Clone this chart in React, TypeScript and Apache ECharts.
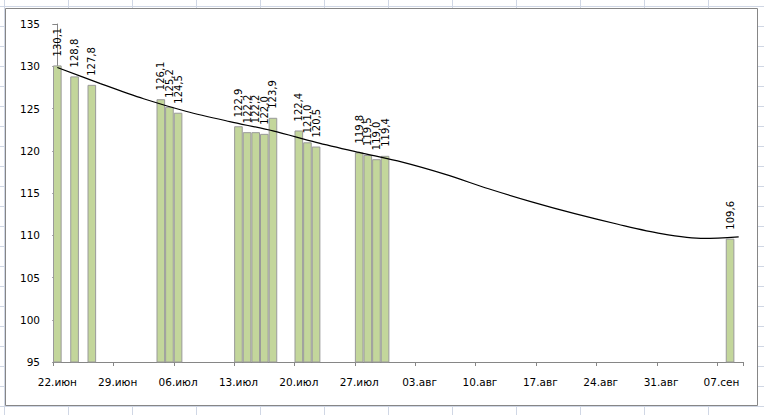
import React, { useEffect, useRef } from "react";
import * as echarts from "echarts";

const tickLabels = ["22.июн", "29.июн", "06.июл", "13.июл", "20.июл", "27.июл", "03.авг", "10.авг", "17.авг", "24.авг", "31.авг", "07.сен"];
const dayCount = 80;
const barDays = [0, 2, 4, 12, 13, 14, 21, 22, 23, 24, 25, 28, 29, 30, 35, 36, 37, 38, 78];
const barValues = [130.1, 128.8, 127.8, 126.1, 125.2, 124.5, 122.9, 122.2, 122.2, 122.0, 123.9, 122.4, 121.0, 120.5, 119.8, 119.5, 119.0, 119.4, 109.6];
const trendDays = [0, 5, 10, 15, 20, 25, 30, 35, 40, 45, 50, 55, 60, 65, 70, 75, 79];
const trendValues = [129.85, 127.95, 126.15, 124.65, 123.45, 122.35, 121.0, 119.8, 118.65, 117.2, 115.5, 113.95, 112.55, 111.3, 110.2, 109.62, 109.8];

const FONT = "DejaVu Sans";

export default function App() {
  const ref = useRef<HTMLDivElement>(null);
  useEffect(() => {
    if (!ref.current) return;
    const chart = echarts.init(ref.current, null, { renderer: "svg" });
    const categories = Array.from({ length: dayCount }, (_, i) => String(i));
    const barData = categories.map((_, i) => {
      const k = barDays.indexOf(i);
      return k >= 0 ? barValues[k] : null;
    });
    const trendData = trendDays.map((d, i) => [d, trendValues[i]]);
    chart.setOption({
      animation: false,
      backgroundColor: "transparent",
      graphic: [
        {
          type: "rect",
          z: -10,
          silent: true,
          shape: { x: 5.5, y: 8.5, width: 752, height: 397 },
          style: { fill: "#ffffff", stroke: "#868686", lineWidth: 1 },
        },
      ],
      grid: { left: 53, right: 21, top: 24, bottom: 53, containLabel: false },
      xAxis: [
        {
          type: "category",
          data: categories,
          boundaryGap: true,
          axisLine: { show: true, lineStyle: { color: "#868686", width: 1 } },
          axisTick: { show: true, interval: 6, length: 4, lineStyle: { color: "#868686" } },
          axisLabel: {
            interval: 6,
            margin: 14,
            fontFamily: FONT,
            fontSize: 10.5,
            color: "#000",
            formatter: (_v: string, idx: number) => (idx % 7 === 0 ? tickLabels[idx / 7] ?? "" : ""),
          },
          splitLine: { show: false },
        },
        {
          type: "value",
          min: -0.5,
          max: dayCount - 0.5,
          show: false,
        },
      ],
      yAxis: {
        type: "value",
        min: 95,
        max: 135,
        interval: 5,
        axisLine: { show: true, lineStyle: { color: "#868686", width: 1 } },
        axisTick: { show: true, length: 5, lineStyle: { color: "#868686" } },
        axisLabel: { margin: 13, fontFamily: FONT, fontSize: 10.5, color: "#000" },
        splitLine: { show: false },
      },
      series: [
        {
          type: "bar",
          data: barData,
          xAxisIndex: 0,
          barCategoryGap: "0%",
          itemStyle: { color: "#C3D69B", borderColor: "#9A9A9A", borderWidth: 1 },
          label: {
            show: true,
            position: "top",
            rotate: 90,
            align: "left",
            verticalAlign: "middle",
            distance: 9,
            fontFamily: FONT,
            fontSize: 10,
            color: "#000",
            formatter: (p: any) => (p.value == null ? "" : Number(p.value).toFixed(1).replace(".", ",")),
          },
          z: 2,
        },
        {
          type: "line",
          xAxisIndex: 1,
          data: trendData,
          smooth: 0.3,
          symbol: "none",
          lineStyle: { color: "#000", width: 1.2 },
          z: 3,
        },
      ],
    });
    return () => chart.dispose();
  }, []);

  return (
    <div
      style={{
        position: "fixed",
        left: 0,
        top: 0,
        width: 764,
        height: 415,
        backgroundColor: "#ffffff",
        backgroundImage:
          "linear-gradient(to right, #D0D7E5 1px, transparent 1px), linear-gradient(to bottom, #D0D7E5 1px, transparent 1px)",
        backgroundSize: "64px 20px",
        backgroundPosition: "4px 6px",
      }}
    >
      <div ref={ref} style={{ width: 764, height: 415 }} />
    </div>
  );
}
